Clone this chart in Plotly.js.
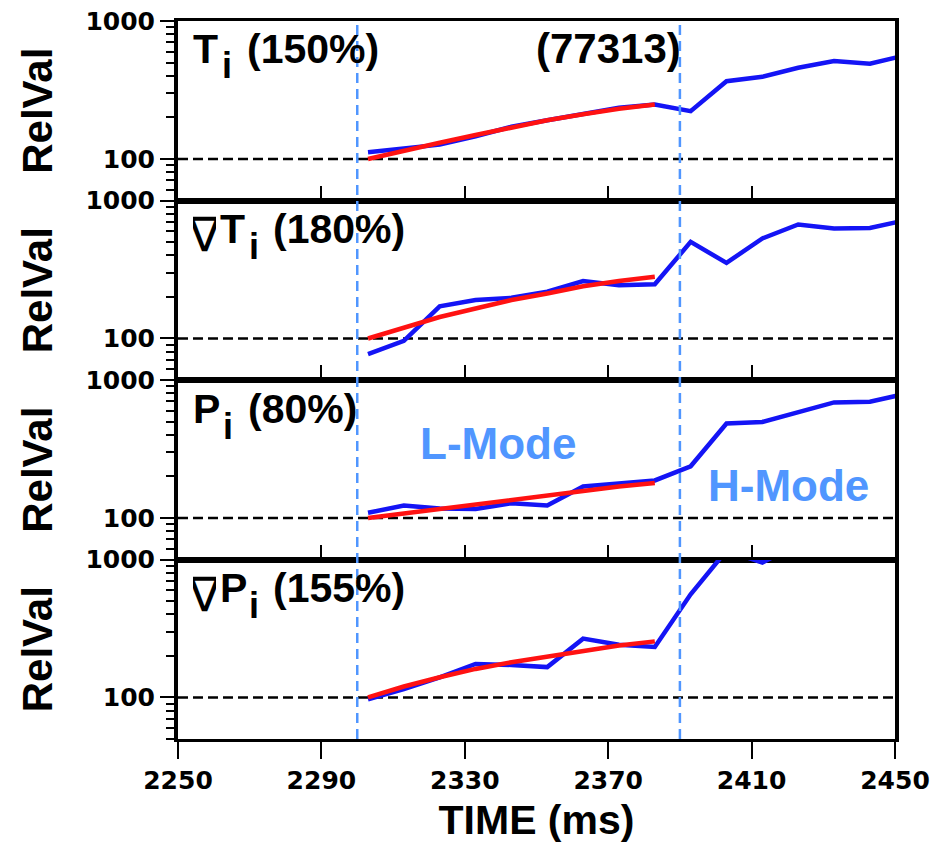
<!DOCTYPE html>
<html>
<head>
<meta charset="utf-8">
<script src="https://cdn.plot.ly/plotly-3.0.1.min.js"></script>
<style>html,body{margin:0;padding:0;background:#fff;}#chart{width:951px;height:848px;}</style>
</head>
<body>
<div id="chart"></div>
<script>
// ---- data ----
const time = [2303, 2313, 2323, 2333, 2343, 2353, 2363, 2373, 2383, 2393, 2403, 2413, 2423, 2433, 2443, 2453];
const fitTime = [2303, 2313, 2323, 2333, 2343, 2353, 2363, 2373, 2383];

const tiMeas   = [112, 120, 127, 146, 171, 191, 213, 235, 248, 222, 366, 394, 458, 512, 490, 566];
const tiFit    = [100, 115, 131, 149, 170, 191, 211, 231, 248];
const gradTiMeas = [77, 96, 171, 190, 197, 218, 261, 243, 247, 501, 353, 531, 670, 627, 632, 720];
const gradTiFit  = [100, 120, 143, 165, 190, 212, 239, 261, 280];
const piMeas   = [109, 123, 117, 116, 128, 123, 169, 177, 187, 237, 484, 497, 587, 688, 695, 795];
const piFit    = [100, 108, 116, 125, 135, 146, 158, 169, 179];
const gradPiMeas = [97, 115, 140, 175, 172, 166, 267, 241, 232, 559, 1160, 950, 1300, 1400, 1450, 1500];
const gradPiFit  = [100, 120, 140, 161, 180, 198, 217, 238, 255];

const baseX = [2250, 2450];
const baseY = [100, 100];
const transitions = [2300, 2390];
const xTickStart = 2250, xTickStep = 40;
const yMinorTicks = [50, 60, 70, 80, 90, 200, 300, 400, 500, 600, 700, 800, 900];
const shotLabel = '(77313)';

const measured = [tiMeas, gradTiMeas, piMeas, gradPiMeas];
const fitted = [tiFit, gradTiFit, piFit, gradPiFit];

// ---- styles ----
const BLUE = '#1414F5', RED = '#FF1212', LIGHT = '#5096FF';
const sans = 'Liberation Sans, Arial, Helvetica, sans-serif';
const tickFont = {family: 'DejaVu Sans, sans-serif', size: 25, color: '#000', weight: 'bold'};

const traces = [];
const layout = {
  width: 951, height: 848,
  margin: {l: 178, r: 56, t: 21, b: 109},
  paper_bgcolor: '#fff', plot_bgcolor: '#fff',
  showlegend: false,
  shapes: [], annotations: []
};

const domains = [[0.75, 1], [0.5, 0.75], [0.25, 0.5], [0, 0.25]];
for (let p = 0; p < 4; p++) {
  const sfx = p === 0 ? '' : String(p + 1);
  const xa = 'x' + sfx, ya = 'y' + sfx;
  traces.push({x: baseX, y: baseY, xaxis: xa, yaxis: ya, mode: 'lines',
    line: {color: '#000', width: 2.5, dash: '10px,5px'}, hoverinfo: 'skip'});
  traces.push({x: time, y: measured[p], xaxis: xa, yaxis: ya, mode: 'lines',
    line: {color: BLUE, width: 4.5}});
  traces.push({x: fitTime, y: fitted[p], xaxis: xa, yaxis: ya, mode: 'lines',
    line: {color: RED, width: 4.5}});
  const last = p === 3;
  layout['xaxis' + sfx] = {
    anchor: ya, range: [2250, 2450], tick0: xTickStart, dtick: xTickStep,
    showgrid: false, zeroline: false, showline: true, mirror: true,
    linecolor: '#000', linewidth: 3,
    ticks: last ? 'outside' : 'inside', ticklen: last ? 17 : 15, tickwidth: 2, tickcolor: '#000',
    showticklabels: last, tickfont: tickFont,
    matches: p === 0 ? undefined : 'x',
    title: last ? {text: 'TIME (ms)', font: {family: sans, size: 41, color: '#000', weight: 'bold'}, standoff: 12} : undefined
  };
  layout['yaxis' + sfx] = {
    domain: domains[p], type: 'log', range: [Math.log10(50), 3], dtick: 1,
    exponentformat: 'none',
    showgrid: false, zeroline: false, showline: true, mirror: true,
    linecolor: '#000', linewidth: 4,
    ticks: 'outside', ticklen: 14, tickwidth: 2, tickcolor: '#000',
    minor: {tickmode: 'array', tickvals: yMinorTicks, ticks: 'outside', ticklen: 8, tickwidth: 2, tickcolor: '#000', showgrid: false},
    tickfont: tickFont,
    title: {text: 'RelVal', font: {family: sans, size: 42, color: '#000', weight: 'bold'}, standoff: 21}
  };
}

transitions.forEach(t => layout.shapes.push({
  type: 'line', xref: 'x', x0: t, x1: t, yref: 'paper', y0: 0, y1: 1,
  line: {color: LIGHT, width: 2.5, dash: '10px,6px'}
}));

function ann(text, x, y, size, opts) {
  layout.annotations.push(Object.assign({
    text: text, xref: 'paper', yref: 'paper', x: x, y: y,
    xanchor: 'left', yanchor: 'middle', showarrow: false,
    font: {family: sans, size: size, color: '#000', weight: 'bold'}
  }, opts || {}));
}
const nablaOpts = {font: {family: 'DejaVu Sans, sans-serif', size: 48, color: '#000', weight: 'normal'}, width: 23, align: 'center'};
// panel 1
ann('T', 0.0181, 0.9610, 41);
ann('i', 0.0586, 0.9387, 36);
ann('(150%)', 0.0934, 0.9610, 41);
ann(shotLabel, 0.4965, 0.9617, 42);
// panel 2
ann('∇', 0.0181, 0.7039, 48, nablaOpts);
ann('T', 0.0558, 0.7103, 41);
ann('i', 0.0962, 0.6866, 36);
ann('(180%)', 0.1297, 0.7103, 41);
// panel 3
ann('P', 0.0181, 0.4596, 41);
ann('i', 0.0600, 0.4359, 36);
ann('(80%)', 0.0948, 0.4596, 41);
// panel 4
ann('∇', 0.0181, 0.2025, 48, nablaOpts);
ann('P', 0.0558, 0.2103, 41);
ann('i', 0.0962, 0.1866, 36);
ann('(155%)', 0.1297, 0.2103, 41);
// regime labels
ann('L-Mode', 0.4463, 0.4110, 44, {xanchor: 'center', font: {family: sans, size: 44, color: LIGHT, weight: 'bold'}});
ann('H-Mode', 0.8508, 0.3524, 44, {xanchor: 'center', font: {family: sans, size: 44, color: LIGHT, weight: 'bold'}});

Plotly.newPlot('chart', traces, layout, {staticPlot: true});
</script>
</body>
</html>
